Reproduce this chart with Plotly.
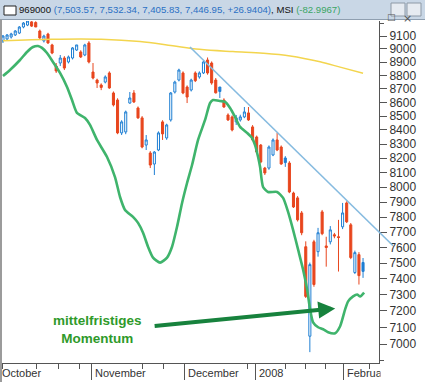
import math
import plotly.graph_objects as go

# ---------------- data ----------------
opens = [9062, 9077, 9092, 9108, 9123, 9170, 9185, 9210, 9205, 9139,
         9062, 9115, 9031, 8870, 8893, 8931, 8901, 8931, 8992, 8977,
         8954, 9046, 8825, 8765, 8728, 8750, 8818, 8669, 8617, 8379,
         8386, 8595, 8669, 8559, 8487, 8293, 8237, 8160, 8258, 8458,
         8343, 8472, 8676, 8765, 8818, 8713, 8691, 8818, 8788, 8818,
         8916, 8893, 8765, 8713, 8617, 8508, 8494, 8458, 8472, 8494,
         8523, 8422, 8350, 8293, 8132, 8132, 8223, 8329, 8279, 8202,
         8167, 7961, 7928, 7827, 7605, 7047, 7637, 7573, 7834, 7610,
         7637, 7683, 7670, 7735, 7894, 7748, 7440, 7554, 7503.57]
highs = [9108, 9115, 9125, 9146, 9177, 9209, 9230, 9230, 9215, 9150,
         9110, 9125, 9040, 8893, 8954, 8945, 8950, 9015, 9031, 8990,
         9040, 9060, 8893, 8775, 8740, 8800, 8830, 8680, 8630, 8470,
         8540, 8676, 8690, 8570, 8500, 8364, 8250, 8250, 8390, 8470,
         8445, 8676, 8760, 8850, 8830, 8725, 8775, 8830, 8830, 8915,
         8935, 8905, 8780, 8713, 8630, 8520, 8505, 8508, 8510, 8566,
         8566, 8435, 8360, 8300, 8140, 8290, 8340, 8380, 8290, 8215,
         8180, 7970, 7940, 7840, 7640, 7503, 7650, 7728, 7847, 7670,
         7740, 7695, 7781, 7894, 7905, 7760, 7580, 7570, 7532.34]
lows = [9046, 9062, 9080, 9100, 9115, 9160, 9177, 9170, 9170, 9077,
        9050, 9040, 8960, 8818, 8870, 8840, 8890, 8920, 8985, 8931,
        8945, 8890, 8770, 8706, 8690, 8740, 8700, 8570, 8370, 8364,
        8370, 8590, 8595, 8480, 8270, 8258, 8132, 8084, 8250, 8329,
        8330, 8460, 8665, 8755, 8660, 8595, 8680, 8750, 8775, 8810,
        8805, 8730, 8665, 8632, 8560, 8465, 8390, 8436, 8460, 8485,
        8465, 8320, 8235, 8165, 8084, 8120, 8215, 8250, 8155, 8140,
        7960, 7860, 7770, 7680, 7280, 6952, 7350, 7541, 7680, 7477,
        7620, 7660, 7446, 7720, 7760, 7525, 7430, 7364, 7405.83]
closes = [9100, 9108, 9116, 9139, 9170, 9201, 9217, 9177, 9170, 9085,
          9100, 9046, 8969, 8833, 8931, 8855, 8939, 9008, 9031, 8939,
          9031, 8901, 8780, 8743, 8710, 8788, 8706, 8581, 8379, 8458,
          8530, 8632, 8603, 8487, 8279, 8329, 8153, 8244, 8379, 8372,
          8436, 8669, 8750, 8840, 8669, 8639, 8765, 8760, 8818, 8901,
          8818, 8743, 8670, 8680, 8566, 8472, 8400, 8487, 8494, 8530,
          8472, 8329, 8244, 8174, 8098, 8279, 8329, 8258, 8160, 8170,
          7968, 7867, 7781, 7696, 7290, 7490, 7364, 7696, 7690, 7600,
          7715, 7675, 7665, 7827, 7768, 7535, 7567, 7420, 7446.95]
days = list(range(len(closes)))

# long moving average (yellow)
ma_x = [0, 12, 24, 33.5, 41.5, 48, 56.2, 63.6, 70.2, 77.5, 82.4, 88]
ma_y = [9064, 9075, 9075, 9057, 9024, 8998, 8980, 8967, 8946, 8902, 8862, 8816]

# momentum curve (green), drawn on price scale
mom_x = [0, 1.71, 4.16, 5.87, 7.33, 8.56, 9.54, 10.76, 12.22, 13.94, 15.65, 16.87,
         18.09, 20.05, 21.27, 22.98, 25.43, 27.38, 28.61, 29.83, 31.78, 33.01, 34.23,
         35.45, 36.67, 38.39, 40.10, 41.32, 42.54, 43.77, 44.99, 46.21, 47.68, 49.39,
         50.61, 51.34, 53.06, 54.28, 55.50, 56.72, 57.95, 59.66, 60.88, 61.61, 62.35,
         62.84, 63.57, 64.79, 67.00, 68.46, 69.68, 70.90, 72.13, 73.35, 74.33, 75.06,
         75.79, 77.02, 78.24, 79.46, 81.17, 82.40, 83.62, 84.35, 85.57, 86.55, 87.29, 88.26]
mom_y = [8795, 8840, 8916, 8977, 9015, 9023, 9008, 8969, 8901, 8818, 8713, 8617,
         8523, 8486, 8436, 8329, 8209, 8070, 7934, 7847, 7801, 7761, 7696,
         7605, 7535, 7503, 7535, 7605, 7735, 7894, 8029, 8153, 8329, 8472,
         8595, 8617, 8610, 8603, 8559, 8494, 8422, 8379, 8343, 8293, 8209,
         8139, 8002, 7968, 7968, 7928, 7834, 7715, 7586, 7458, 7333, 7210,
         7131, 7101, 7089, 7071, 7065, 7107, 7210, 7259, 7290, 7302, 7290, 7314]

# trend line (two points)
trend_x = [45.7, 95.35]
trend_y = [9015, 7611]

# arrow (tail -> head) and its label
arrow_x = [36.7, 81.2]
arrow_y = [7108, 7216]
note_x, note_y = 23.1, 7089
note_text = "mittelfristiges<br>Momentum"

# axes
month_pos = [-1.0, 21.7, 44.25, 61.7, 83.2]
month_labels = ["October", "November", "December", "2008", "February"]
week_pos = [0, 8.25, 13.5, 18.7, 34.05, 39.2, 59.8, 69.0, 73.9, 78.9, 89.5]
price_ticks = list(range(6900, 9201, 100))
price_minor = [v + 50 for v in range(6850, 9200, 100)]

header_name = "969000"
header_change = 26.9404
msi_value = -82.9967

X0, X1 = -0.24, 91.9
Y0, Y1 = 6888, 9217

BLUE = "#1f7fd3"
RED = "#e8461e"

# --------------- helpers (pixel/paper conversion for decoration) -------------
W, H = 425, 382
ML, MR, MT, MB = 2, 46, 21, 19
PW, PH = W - ML - MR, H - MT - MB


def xpap(px):
    return (px - ML) / PW


def ypap(py):
    return (H - MB - py) / PH


def d2px(i):
    return (i - X0) / (X1 - X0)


def v2py(v):
    return (math.log10(v) - math.log10(Y0)) / (math.log10(Y1) - math.log10(Y0))


# colour by close vs previous close
up = [True] + [closes[k] >= closes[k - 1] for k in range(1, len(closes))]


def subset(flag):
    ids = [k for k in days if up[k] == flag]
    return (ids, [opens[k] for k in ids], [highs[k] for k in ids],
            [lows[k] for k in ids], [closes[k] for k in ids])


fig = go.Figure()
for flag, col in [(True, BLUE), (False, RED)]:
    ids, o, h, l, c = subset(flag)
    fig.add_trace(go.Candlestick(
        x=ids, open=o, high=h, low=l, close=c,
        increasing=dict(line=dict(color=col, width=1), fillcolor="white"),
        decreasing=dict(line=dict(color=col, width=1), fillcolor=col),
        whiskerwidth=0, showlegend=False, hoverinfo="skip"))

fig.add_trace(go.Scatter(x=ma_x, y=ma_y, mode="lines",
                         line=dict(color="#f3d54e", width=1.5, shape="spline"),
                         showlegend=False, hoverinfo="skip"))
fig.add_trace(go.Scatter(x=mom_x, y=mom_y, mode="lines",
                         line=dict(color="#3fb46c", width=2.6, shape="spline", smoothing=0.6),
                         showlegend=False, hoverinfo="skip"))

shapes = []
# trend line (not clipped: paper coordinates derived from data)
shapes.append(dict(type="line", xref="paper", yref="paper",
                   x0=d2px(trend_x[0]), y0=v2py(trend_y[0]),
                   x1=d2px(trend_x[1]), y1=v2py(trend_y[1]),
                   line=dict(color="#86bbe0", width=1.6), layer="above"))
# window decoration
shapes.append(dict(type="rect", xref="paper", yref="paper", x0=xpap(0), x1=xpap(425),
                   y0=ypap(19.5), y1=ypap(-1), fillcolor="#c9d7e6", line=dict(width=0), layer="above"))
shapes.append(dict(type="line", xref="paper", yref="paper", x0=xpap(0), x1=xpap(425),
                   y0=ypap(19.5), y1=ypap(19.5), line=dict(color="#8f9fb0", width=1), layer="above"))
shapes.append(dict(type="rect", xref="paper", yref="paper", x0=xpap(-1), x1=xpap(2),
                   y0=ypap(383), y1=ypap(19.5), fillcolor="#9b9b9b", line=dict(width=0), layer="above"))
shapes.append(dict(type="rect", xref="paper", yref="paper", x0=xpap(4), x1=xpap(16),
                   y0=ypap(15), y1=ypap(6), fillcolor="white", line=dict(color="#222", width=1), layer="above"))
for bx in (391, 407):
    shapes.append(dict(type="rect", xref="paper", yref="paper", x0=xpap(bx), x1=xpap(bx + 14),
                       y0=ypap(16), y1=ypap(3), fillcolor="#e6ebf1",
                       line=dict(color="#8d99a6", width=1), layer="above"))

annotations = []
o_, h_, l_, c_ = opens[-1], highs[-1], lows[-1], closes[-1]
header = (f"{header_name} <span style='color:#2a70c4'>({o_:,.2f}, {h_:,.2f}, {l_:,.2f}, {c_:,.2f}, "
          f"{header_change:+.4f})</span>, MSI <span style='color:#3aa564'>({msi_value:.4f})</span>")
annotations.append(dict(xref="paper", yref="paper", x=xpap(17), y=ypap(10), xanchor="left",
                        yanchor="middle", showarrow=False, text=header,
                        font=dict(family="Liberation Sans", size=9.6, color="#111")))
annotations.append(dict(xref="paper", yref="paper", x=xpap(398), y=ypap(10), showarrow=False,
                        text="□", font=dict(family="DejaVu Sans", size=9, color="#555")))
annotations.append(dict(xref="paper", yref="paper", x=xpap(414), y=ypap(10), showarrow=False,
                        text="×", font=dict(family="DejaVu Sans", size=11, color="#555")))

# month labels
for pos, lab in zip(month_pos, month_labels):
    annotations.append(dict(xref="paper", yref="paper", x=d2px(pos), y=ypap(373),
                            xanchor="left", yanchor="middle", xshift=1.5, showarrow=False,
                            text=lab, font=dict(family="Liberation Sans", size=11, color="#333")))
# cover label overflow past the axis (label is clipped in the original)
annotations.append(dict(xref="paper", yref="paper", x=xpap(380), y=ypap(373), xanchor="left",
                        yanchor="middle", showarrow=False, text=" ", width=40, height=14,
                        bgcolor="white", borderpad=0))

# arrow
annotations.append(dict(xref="x", yref="y", axref="x", ayref="y",
                        x=arrow_x[1], y=math.log10(arrow_y[1]),
                        ax=arrow_x[0], ay=math.log10(arrow_y[0]),
                        text="", showarrow=True, arrowhead=2, arrowsize=0.85,
                        arrowwidth=4, arrowcolor="#17823d", standoff=0, startstandoff=0))
annotations.append(dict(xref="x", yref="y", x=note_x, y=math.log10(note_y), showarrow=False,
                        text=note_text, align="center",
                        font=dict(family="Liberation Sans", size=13.5, color="#2f9a2a", weight="bold")))

fig.update_layout(
    width=W, height=H,
    margin=dict(l=ML, r=MR, t=MT, b=MB, pad=0, autoexpand=False),
    paper_bgcolor="white", plot_bgcolor="white",
    showlegend=False, boxgap=0.28,
    shapes=shapes, annotations=annotations,
    xaxis=dict(range=[X0, X1], rangeslider=dict(visible=False), showgrid=False, zeroline=False,
               automargin=False,
               showline=True, linecolor="#555", linewidth=1,
               tickmode="array", tickvals=[p for p in month_pos if X0 <= p <= X1],
               ticks="outside", ticklen=16, tickcolor="#555", tickwidth=1, showticklabels=False,
               minor=dict(tickmode="array", tickvals=week_pos, ticks="outside", ticklen=5,
                          tickcolor="#555", tickwidth=1)),
    yaxis=dict(type="log", side="right", range=[math.log10(Y0), math.log10(Y1)],
               automargin=False,
               showgrid=False, zeroline=False, showline=True, linecolor="#555", linewidth=1,
               tickmode="array", tickvals=price_ticks,
               ticktext=[str(v) if 7000 <= v <= 9100 else "" for v in price_ticks],
               ticks="outside", ticklen=7, tickcolor="#555", tickwidth=1,
               tickfont=dict(family="Liberation Sans", size=12, color="#333"),
               minor=dict(tickmode="array", tickvals=price_minor, ticks="outside", ticklen=4,
                          tickcolor="#555", tickwidth=1)),
)

fig.write_html("out.html", config={"displayModeBar": False, "staticPlot": True},
               post_script="document.body.style.margin='0';document.body.style.padding='0';")
